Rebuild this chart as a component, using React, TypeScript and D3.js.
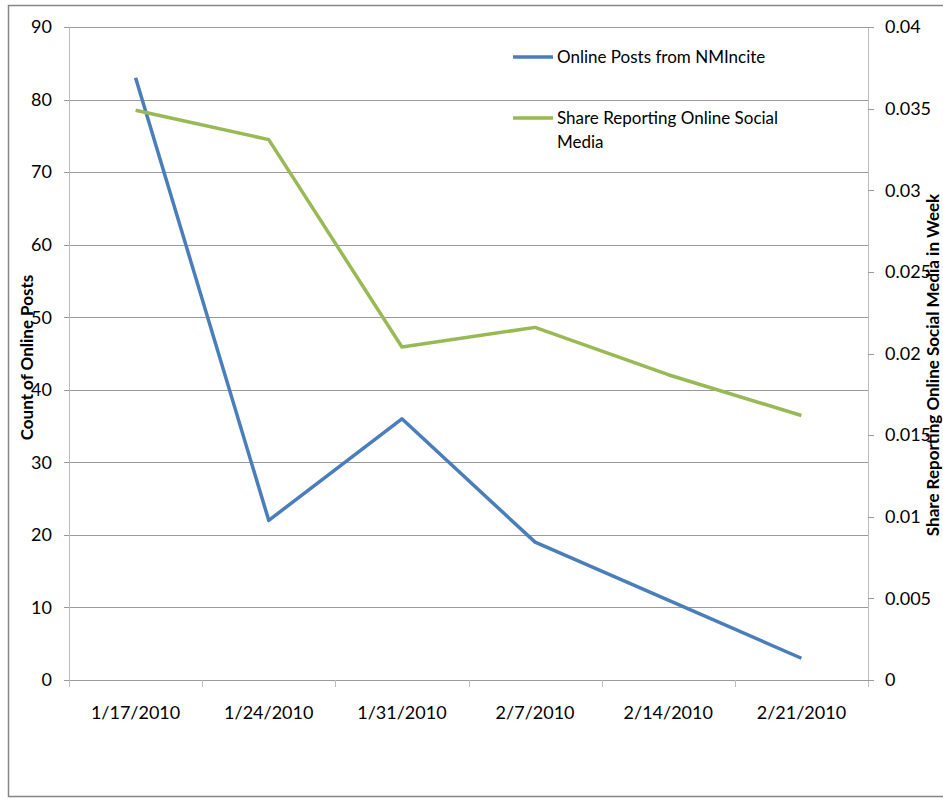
import React from 'react';
import * as d3 from 'd3';

// weekly data
const weeks = ['1/17/2010', '1/24/2010', '1/31/2010', '2/7/2010', '2/14/2010', '2/21/2010'];
const posts = [83, 22, 36, 19, 11, 3];
const share = [0.0349, 0.0331, 0.0204, 0.0216, 0.0187, 0.0162];
const leftTicks = [0, 10, 20, 30, 40, 50, 60, 70, 80, 90];
const rightTicks = [0, 0.005, 0.01, 0.015, 0.02, 0.025, 0.03, 0.035, 0.04];
const seriesNames = ['Online Posts from NMIncite', 'Share Reporting Online Social Media'];

const W = 943;
const H = 799;
const left = 69, right = 868, top = 27, bottom = 680;
const font = 'Lato, "Open Sans", sans-serif';
const blue = '#4a7ebb';
const green = '#98b954';

export default function App() {
    const x = d3.scaleBand().domain(weeks).range([left, right]);
    const yL = d3.scaleLinear().domain([0, 90]).range([bottom, top]);
    const yR = d3.scaleLinear().domain([0, 0.04]).range([bottom, top]);

    const cx = (d: string) => (x(d) as number) + x.bandwidth() / 2;
    const postsLine = d3.line<number>().x((d, i) => cx(weeks[i])).y(d => yL(d))(posts) as string;
    const shareLine = d3.line<number>().x((d, i) => cx(weeks[i])).y(d => yR(d))(share) as string;

    const edges = weeks.map(d => x(d) as number).concat([right]);
    const fmtR = (v: number) => (v === 0 ? '0' : String(+v.toFixed(3)));

    return (
        <svg width={W} height={H} style={{ position: 'absolute', left: 0, top: 0, background: '#fff' }}
             fontFamily={font}>
            <rect x={8.5} y={5.5} width={W + 10} height={791} fill="#fff" stroke="#868686" strokeWidth={1.5} />

            {/* gridlines */}
            {leftTicks.slice(1).map(t => (
                <line key={'g' + t} x1={left} x2={right} y1={Math.round(yL(t)) + 0.5} y2={Math.round(yL(t)) + 0.5}
                      stroke="#9a9a9a" strokeWidth={1} />
            ))}

            {/* axes */}
            <line x1={left + 0.5} x2={left + 0.5} y1={top} y2={bottom + 7} stroke="#bcbcbc" />
            <line x1={right + 0.5} x2={right + 0.5} y1={top} y2={bottom + 7} stroke="#bcbcbc" />
            <line x1={left} x2={right} y1={bottom + 0.5} y2={bottom + 0.5} stroke="#9a9a9a" />
            {edges.map((e, i) => (
                <line key={'xt' + i} x1={Math.round(e) + 0.5} x2={Math.round(e) + 0.5} y1={bottom} y2={bottom + 7}
                      stroke="#bcbcbc" />
            ))}
            {leftTicks.map(t => (
                <g key={'lt' + t}>
                    <line x1={left - 5} x2={left} y1={Math.round(yL(t)) + 0.5} y2={Math.round(yL(t)) + 0.5} stroke="#9a9a9a" />
                    <text x={52} y={yL(t)} dy="0.35em" textAnchor="end" fontSize={18} fill="#000">{t}</text>
                </g>
            ))}
            {rightTicks.map(t => (
                <g key={'rt' + t}>
                    <line x1={right} x2={right + 6} y1={Math.round(yR(t)) + 0.5} y2={Math.round(yR(t)) + 0.5} stroke="#9a9a9a" />
                    <text x={885} y={yR(t)} dy="0.35em" textAnchor="start" fontSize={18} fill="#000">{fmtR(t)}</text>
                </g>
            ))}
            {weeks.map(w => (
                <text key={w} x={cx(w)} y={713} dy="0.35em" textAnchor="middle" fontSize={18} fill="#000">{w}</text>
            ))}

            {/* axis titles */}
            <text transform={`translate(33,${(top + bottom) / 2 + 4}) rotate(-90)`} textAnchor="middle"
                  fontSize={17} fontWeight="bold" fill="#000">Count of Online Posts</text>
            <text transform={`translate(939,365) rotate(-90)`} textAnchor="middle"
                  fontSize={17} fontWeight="bold" fill="#000">Share Reporting  Online Social Media in Week</text>

            {/* series */}
            <path d={postsLine} fill="none" stroke={blue} strokeWidth={3.5} strokeLinejoin="round" />
            <path d={shareLine} fill="none" stroke={green} strokeWidth={3.5} strokeLinejoin="round" />

            {/* legend */}
            <line x1={513} x2={553} y1={57} y2={57} stroke={blue} strokeWidth={3.5} />
            <text x={557} y={57} dy="0.35em" fontSize={17} fill="#000">{seriesNames[0]}</text>
            <line x1={513} x2={553} y1={118} y2={118} stroke={green} strokeWidth={3.5} />
            <text x={557} y={118} dy="0.35em" fontSize={17} fill="#000">Share Reporting Online Social</text>
            <text x={557} y={142} dy="0.35em" fontSize={17} fill="#000">Media</text>
        </svg>
    );
}
